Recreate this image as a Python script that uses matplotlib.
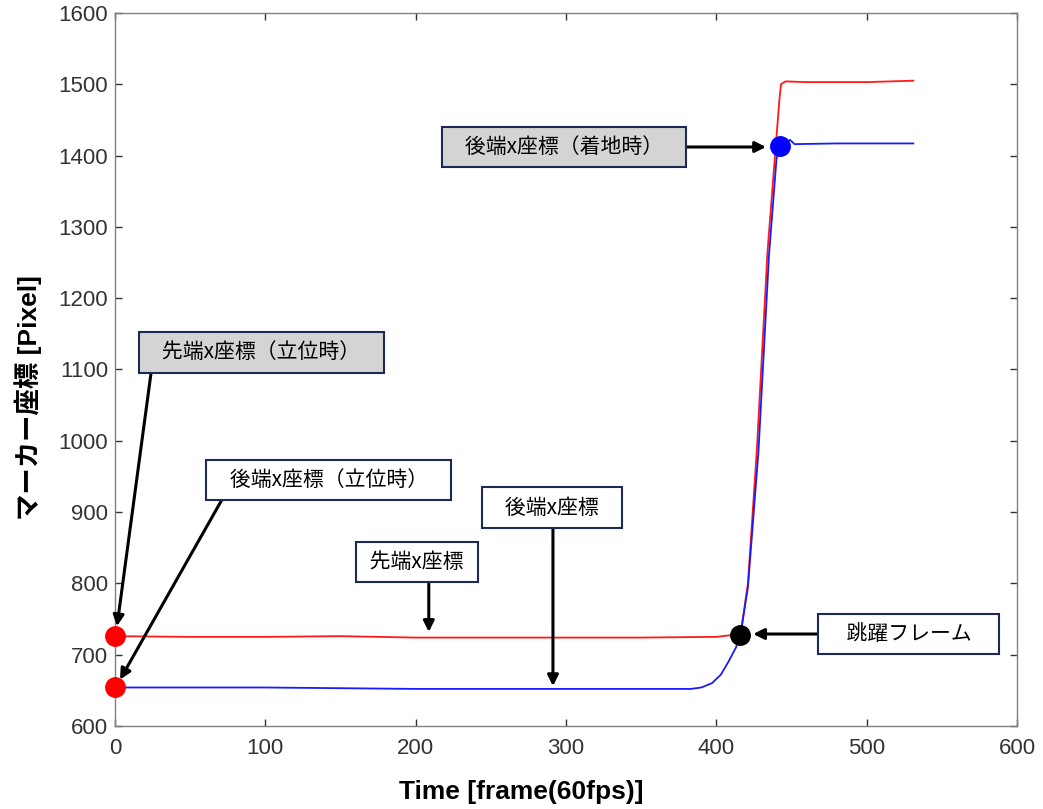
import numpy as np
import matplotlib
matplotlib.use('Agg')
import matplotlib.pyplot as plt

plt.rcParams['font.family'] = ['Liberation Sans', 'Noto Sans CJK JP']

# 先端x座標 (red)
front_frame = [0, 50, 100, 150, 200, 250, 300, 350, 400, 408, 412, 416, 421, 427,
               434, 439, 442, 443, 446, 460, 500, 531]
front_x = [726, 725, 725, 726, 724, 724, 724, 724, 725, 727, 728, 727, 800, 990,
           1265, 1400, 1480, 1500, 1504, 1503, 1503, 1505]

# 後端x座標 (blue)
rear_frame = [0, 50, 100, 150, 200, 250, 300, 350, 383, 390, 397, 403, 408, 413,
              416, 421, 428, 435, 440, 442, 446, 449, 452, 480, 531]
rear_x = [654, 654, 654, 653, 652, 652, 652, 652, 652, 654, 660, 672, 690, 710,
          727, 795, 985, 1260, 1395, 1413, 1418, 1422, 1416, 1417, 1417]

# key points
stand_frame = [0, 0]
stand_x = [726, 654]
land_frame, land_x = 442, 1413
jump_frame, jump_x = 416, 727

# annotations: text, box centre, arrow start, arrow tip, gray fill
labels = ['後端x座標（着地時）', '先端x座標（立位時）', '後端x座標（立位時）',
          '後端x座標', '先端x座標', '跳躍フレーム']
label_pos = [(298.7, 1412), (97.3, 1124), (142, 945), (290.7, 906), (200.7, 830), (528, 729)]
arrow_from = [(380, 1412), (24, 1096), (71, 917), (291.3, 878), (208.7, 802), (468, 729)]
arrow_to = [(433, 1412), (1.3, 740), (3.3, 665), (291.3, 656), (208.7, 732), (424.5, 729)]
gray_box = [True, True, False, False, False, False]
pad_spaces = [3, 3, 3, 3, 1, 4]

fig = plt.figure(figsize=(10.43, 8.09), dpi=100)
ax = fig.add_axes([0.1103, 0.1026, 0.8648, 0.8814])

ax.plot(front_frame, front_x, color='#ff1a1a', lw=1.3, zorder=3)
ax.plot(rear_frame, rear_x, color='#1a1aff', lw=1.3, zorder=3)

ax.plot(stand_frame, stand_x, 'o', color='#ff0000', ms=14, clip_on=False, zorder=5)
ax.plot([land_frame], [land_x], 'o', color='#0000ff', ms=14, zorder=5)
ax.plot([jump_frame], [jump_x], 'o', color='#000000', ms=14, zorder=5)

for txt, pos, p0, p1, gray, ns in zip(labels, label_pos, arrow_from, arrow_to, gray_box, pad_spaces):
    ax.annotate('', xy=p1, xytext=p0,
                arrowprops=dict(arrowstyle='-|>', color='k', lw=2.2, mutation_scale=16,
                                shrinkA=0, shrinkB=0), zorder=6, annotation_clip=False)
    sp = ' ' * ns
    ax.text(pos[0], pos[1], sp + txt + sp, ha='center', va='center', fontsize=15,
            family=['Noto Sans CJK JP'], zorder=7,
            bbox=dict(boxstyle='square,pad=0.45', fc='#d4d4d4' if gray else 'white',
                      ec='#1c2a55', lw=1.5))

ax.set_xlim(0, 600)
ax.set_ylim(600, 1600)
ax.set_xticks(np.arange(0, 601, 100))
ax.set_yticks(np.arange(600, 1601, 100))
ax.tick_params(direction='in', top=True, right=True, labelsize=16, colors='#333333',
               length=5, width=1)
ax.tick_params(axis='x', pad=9)
ax.tick_params(axis='y', pad=5)
for s in ax.spines.values():
    s.set_color('#808080')
    s.set_linewidth(1)

ax.set_xlabel('Time [frame(60fps)]', fontsize=19, fontweight='bold')
ax.set_ylabel('マーカー座標 [Pixel]', fontsize=19, fontweight='bold')
ax.xaxis.set_label_coords(0.45, -0.076)
ax.yaxis.set_label_coords(-0.081, 0.46)

fig.savefig('out.png', dpi=100)
